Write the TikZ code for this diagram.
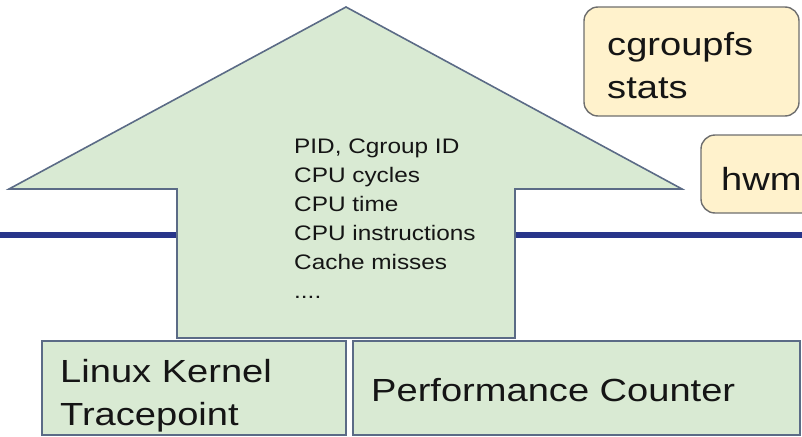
\documentclass[tikz,border=0pt]{standalone}
\usepackage{fontspec}
\setmainfont{Liberation Sans}
\newfontfamily\bigf[FakeStretch=1.19]{Liberation Sans}
\newfontfamily\smallf[FakeStretch=1.16]{Liberation Sans}
\definecolor{greenfill}{HTML}{D9EAD3}
\definecolor{yellowfill}{HTML}{FFF2CC}
\definecolor{edgeblue}{HTML}{5B6B86}
\definecolor{edgegray}{HTML}{6E6E6E}
\definecolor{navy}{HTML}{28358A}
\definecolor{txt}{HTML}{151515}
\begin{document}
\begin{tikzpicture}[x=1pt,y=-1pt,
  greenbox/.style={fill=greenfill,draw=edgeblue,line width=1.6pt},
  yellowbox/.style={fill=yellowfill,draw=edgegray,line width=1.4pt,rounded corners=14pt},
  bigtext/.style={inner sep=0pt,text=txt,align=left,font=\bigf\fontsize{32}{43}\selectfont},
  smalltext/.style={inner sep=0pt,text=txt,align=left,font=\smallf\fontsize{21}{29}\selectfont},
  busline/.style={draw=navy,line width=6pt}]
\useasboundingbox (0,0) rectangle (802,436);
\clip (0,0) rectangle (802,436);
% bus line
\coordinate (busL) at (0,234.5);
\coordinate (busR) at (802,234.5);
\coordinate (shaftL) at (177,234.5);
\coordinate (shaftR) at (515,234.5);
\draw[busline] (busL) -- (shaftL);
\draw[busline] (shaftR) -- (busR);
% arrow
\draw[greenbox,line join=miter] (346,7) -- (682,189) -- (515,189) -- (515,338) -- (177,338) -- (177,189) -- (9,189) -- cycle;
% bottom boxes
\draw[greenbox] (42,341) rectangle (346,435);
\draw[greenbox] (353,341) rectangle (800,435);
% yellow boxes
\draw[yellowbox] (584,7) rectangle (799,116);
\draw[yellowbox] (701,135) rectangle (840,213);
% texts (base anchor = last line's baseline)
\node[smalltext,anchor=base west] (info) at (294,298) {PID, Cgroup ID\\CPU cycles\\CPU time\\CPU instructions\\Cache misses\\....};
\node[bigtext,anchor=base west] (linux) at (60,425) {Linux Kernel\\Tracepoint};
\node[bigtext,anchor=base west] (perf) at (371,401) {Performance Counter};
\node[bigtext,anchor=base west] (cg) at (607,98) {cgroupfs\\stats};
\node[bigtext,anchor=base west] (hwm) at (721,190) {hwm};
\end{tikzpicture}
\end{document}
